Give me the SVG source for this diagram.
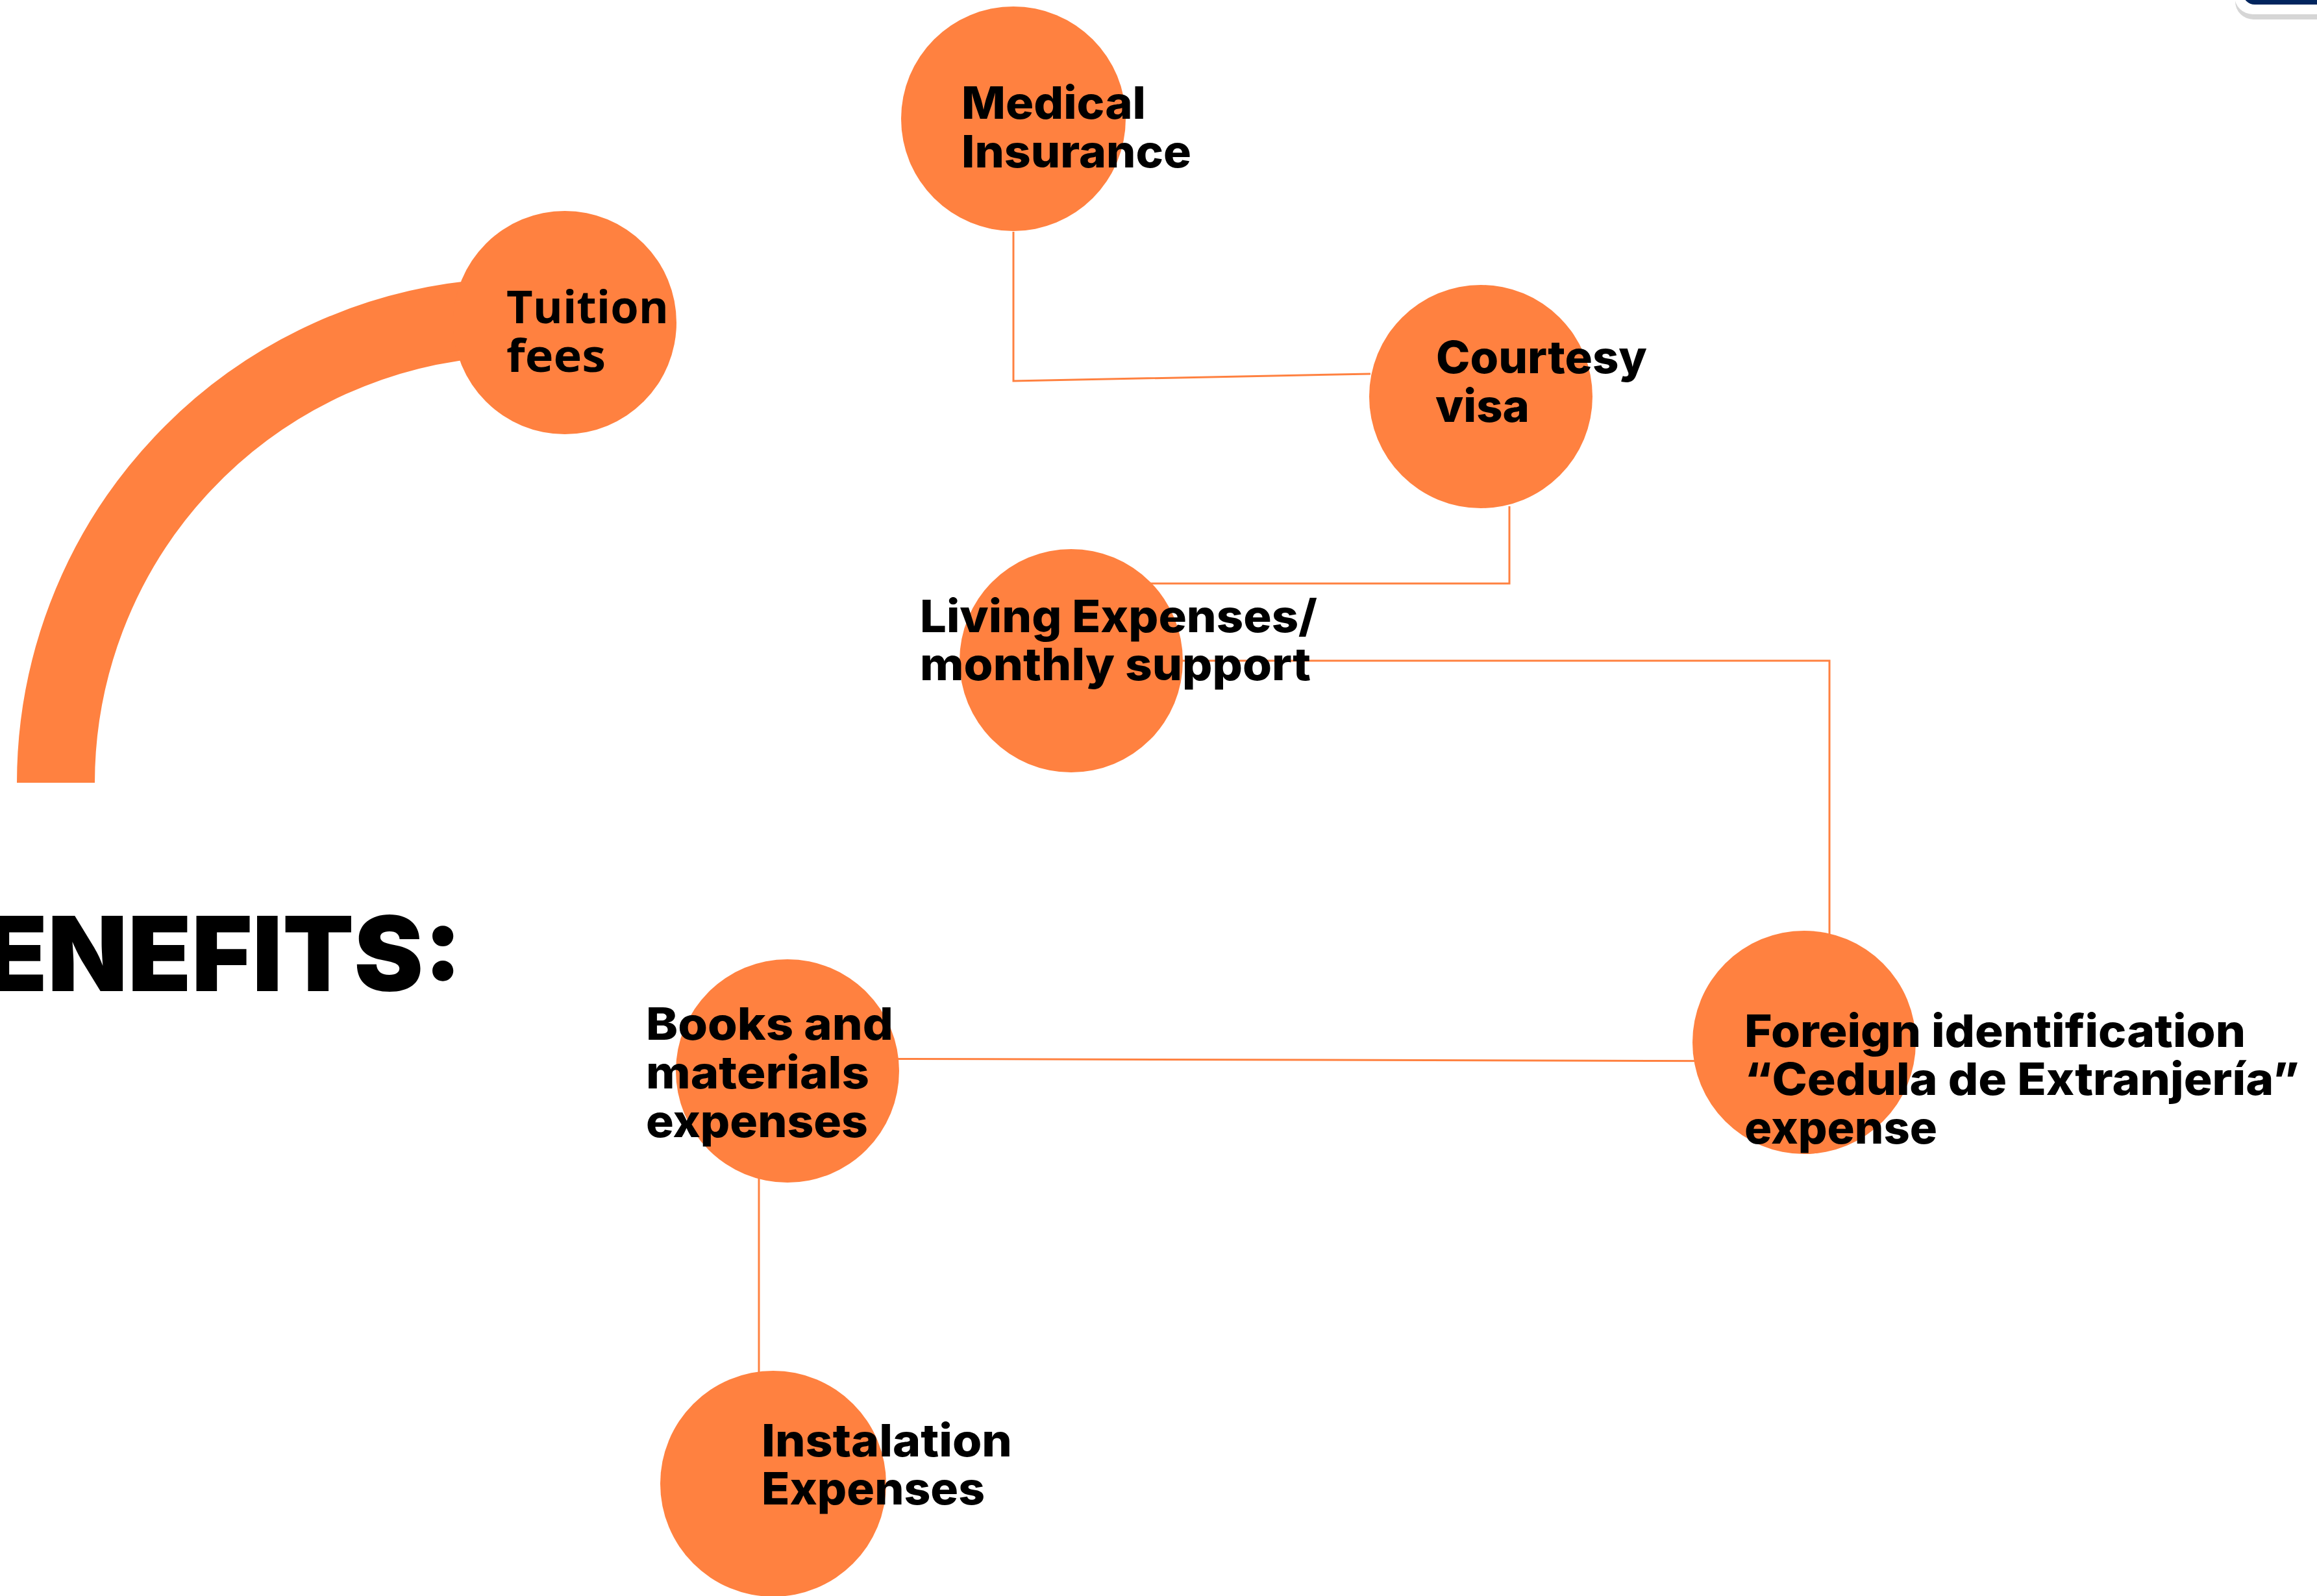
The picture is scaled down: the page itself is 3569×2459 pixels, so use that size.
<svg xmlns="http://www.w3.org/2000/svg" width="3569" height="2459" viewBox="0 0 3569 2459">
<style>
.node{fill:#FF8140}
.lbl{font-family:"Inter","Liberation Sans",sans-serif;font-weight:800;font-size:69px;fill:#000}
.lbl2{font-family:"Open Sans","Liberation Sans",sans-serif;font-weight:700;font-size:70px;fill:#000}
.conn{fill:none;stroke:#FF8140;stroke-width:3}
</style>
<rect width="3569" height="2459" fill="#fff"/>
<g id="corner">
<rect x="3443" y="-100" width="200" height="130" rx="28" fill="#D6D6D6"/>
<rect x="3442" y="-100" width="200" height="122" rx="28" fill="#fff"/>
<rect x="3455" y="-100" width="200" height="107" rx="18" fill="#02255E"/>
</g>
<path id="arc" d="M86 1206 A718 718 0 0 1 760 490" fill="none" stroke="#FF8140" stroke-width="120"/>
<text id="title" x="-25" y="1527" font-family="Inter, Liberation Sans, sans-serif" font-weight="900" font-size="160" fill="#000" textLength="737" lengthAdjust="spacingAndGlyphs">ENEFITS:</text>
<g id="connectors">
<path class="conn" d="M1561 357 V587 L2111 576"/>
<path class="conn" d="M2325 780 V899 H1700"/>
<path class="conn" d="M1650 1018 H2818 V1440"/>
<path class="conn" d="M1213 1631 L2779 1635"/>
<path class="conn" d="M1169 1800 V2120" stroke-width="2"/>
</g>
<g id="tuition">
<circle class="node" cx="870" cy="497" r="172"/>
<text class="lbl2" x="780" y="498" textLength="250" lengthAdjust="spacingAndGlyphs">Tuition</text>
<text class="lbl2" x="780" y="573" textLength="153" lengthAdjust="spacingAndGlyphs">fees</text>
</g>
<g id="medical">
<circle class="node" cx="1561" cy="183" r="173"/>
<text class="lbl" x="1481" y="183" textLength="284" lengthAdjust="spacingAndGlyphs">Medical</text>
<text class="lbl" x="1481" y="258" textLength="354" lengthAdjust="spacingAndGlyphs">Insurance</text>
</g>
<g id="courtesy">
<circle class="node" cx="2281" cy="611" r="172"/>
<text class="lbl" x="2212" y="575" textLength="325" lengthAdjust="spacingAndGlyphs">Courtesy</text>
<text class="lbl" x="2211" y="650" textLength="145" lengthAdjust="spacingAndGlyphs">visa</text>
</g>
<g id="living">
<circle class="node" cx="1650" cy="1018" r="172"/>
<text class="lbl" x="1417" y="974" textLength="612" lengthAdjust="spacingAndGlyphs">Living Expenses/</text>
<text class="lbl" x="1417" y="1048" textLength="602" lengthAdjust="spacingAndGlyphs">monthly support</text>
</g>
<g id="foreign">
<circle class="node" cx="2779" cy="1606" r="172"/>
<text class="lbl" x="2687" y="1613" textLength="772" lengthAdjust="spacingAndGlyphs">Foreign identification</text>
<text class="lbl" x="2687" y="1687" textLength="855" lengthAdjust="spacingAndGlyphs">“Cedula de Extranjería”</text>
<text class="lbl" x="2687" y="1762" textLength="297" lengthAdjust="spacingAndGlyphs">expense</text>
</g>
<g id="books">
<circle class="node" cx="1213" cy="1650" r="172"/>
<text class="lbl" x="995" y="1602" textLength="381" lengthAdjust="spacingAndGlyphs">Books and</text>
<text class="lbl" x="995" y="1677" textLength="344" lengthAdjust="spacingAndGlyphs">materials</text>
<text class="lbl" x="995" y="1752" textLength="342" lengthAdjust="spacingAndGlyphs">expenses</text>
</g>
<g id="instalation">
<circle class="node" cx="1191" cy="2286" r="174"/>
<text class="lbl" x="1173" y="2244" textLength="386" lengthAdjust="spacingAndGlyphs">Instalation</text>
<text class="lbl" x="1173" y="2318" textLength="344" lengthAdjust="spacingAndGlyphs">Expenses</text>
</g>
</svg>
